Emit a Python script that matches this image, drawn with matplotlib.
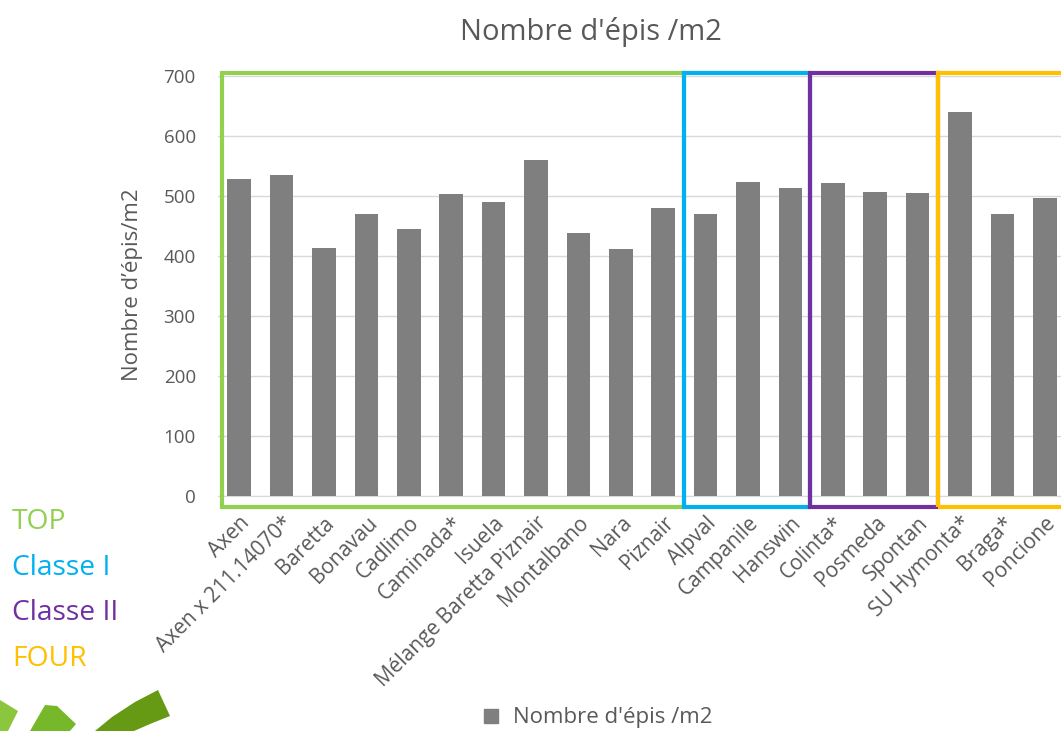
import matplotlib.pyplot as plt
from matplotlib.patches import Rectangle, Polygon
from matplotlib.lines import Line2D

varieties = ['Axen', 'Axen x 211.14070*', 'Baretta', 'Bonavau', 'Cadlimo', 'Caminada*',
             'Isuela', 'Mélange Baretta Piznair', 'Montalbano', 'Nara', 'Piznair',
             'Alpval', 'Campanile', 'Hanswin',
             'Colinta*', 'Posmeda', 'Spontan',
             'SU Hymonta*', 'Braga*', 'Poncione']
epis = [527, 534, 412, 469, 444, 503, 489, 560, 437, 411, 479,
        469, 522, 512,
        521, 506, 505,
        640, 470, 496]

# class groups: (label, colour, first x edge, last x edge)
groups = [('TOP', '#92D050', -0.41, 10.5),
          ('Classe I', '#00B0F0', 10.5, 13.46),
          ('Classe II', '#7030A0', 13.46, 16.48),
          ('FOUR', '#FFC000', 16.48, 19.6)]

plt.rcParams['font.family'] = ['Open Sans', 'DejaVu Sans']
txt = '#595959'

fig = plt.figure(figsize=(10.61, 7.31), dpi=100)

# decoration layer in pixel coords
bg = fig.add_axes([0, 0, 1, 1], zorder=0)
bg.set_xlim(0, 1061)
bg.set_ylim(731, 0)
bg.axis('off')
bg.add_patch(Polygon([(0, 700), (18, 711), (8, 731), (0, 731)], color='#8CC63F', lw=0))
bg.add_patch(Polygon([(30, 731), (45, 705), (57, 706), (76, 724), (70, 731)], color='#76B82A', lw=0))
bg.add_patch(Polygon([(95, 731), (112, 717), (135, 702), (158, 690), (170, 716),
                      (150, 724), (134, 731)], color='#669A14', lw=0))

ax = fig.add_axes([218 / 1061, 1 - 495.7 / 731, 848 / 1061, 420 / 731], zorder=1)
ax.patch.set_alpha(0)
x = list(range(len(varieties)))
ax.bar(x, epis, width=0.56, color='#7F7F7F', zorder=3)
ax.set_xlim(-0.5, len(varieties) - 0.5)
ax.set_ylim(0, 700)
ax.set_yticks(range(0, 701, 100))
ax.grid(axis='y', color='#D9D9D9', lw=1, zorder=0)
for s in ['top', 'right', 'left']:
    ax.spines[s].set_visible(False)
ax.spines['bottom'].set_color('#D9D9D9')
ax.tick_params(length=0, labelcolor=txt)
ax.tick_params(axis='y', pad=16, labelsize=13.5)
ax.set_xticks(x)
ax.set_xticklabels(varieties, rotation=45, ha='right', rotation_mode='anchor')
ax.tick_params(axis='x', pad=12, labelsize=15)

for name, col, x0, x1 in groups:
    ax.add_patch(Rectangle((x0, -19), x1 - x0, 723, fill=False, ec=col, lw=3,
                           clip_on=False, zorder=4))

fig.text(0.557, 0.956, "Nombre d'épis /m2", ha='center', va='center', fontsize=21, color=txt)
fig.text(0.125, 0.61, 'Nombre d’épis/m2', rotation=90, ha='center', va='center',
         fontsize=16, color=txt)

ys = [522, 568, 613, 659]
for (name, col, x0, x1), yy in zip(groups, ys):
    fig.text(12 / 1061, 1 - yy / 731, name, color=col, fontsize=20.3, ha='left', va='center')

h = Line2D([], [], marker='s', ls='', color='#7F7F7F', markersize=10)
fig.legend([h], ["Nombre d'épis /m2"], loc='center', bbox_to_anchor=(0.557, 0.018),
           frameon=False, fontsize=16, labelcolor=txt, handletextpad=0.0, borderpad=0)

fig.savefig('out.png', dpi=100)
